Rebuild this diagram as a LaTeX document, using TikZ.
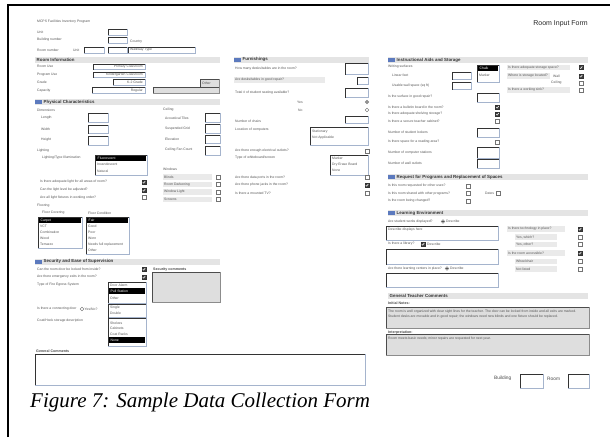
\documentclass[tikz,border=0pt]{standalone}
\usepackage{fontspec}
\setmainfont{Liberation Sans}
\newfontfamily\capfont{Liberation Serif}

\definecolor{headbg}{RGB}{228,228,228}
\definecolor{headicon}{RGB}{92,122,190}
\definecolor{fieldedge}{RGB}{165,180,205}
\definecolor{graybox}{RGB}{222,222,222}
\definecolor{graybar}{RGB}{234,234,234}
\definecolor{lbltext}{RGB}{85,85,85}

\tikzset{
  lbl/.style={anchor=west, inner sep=0pt, font=\fontsize{3.4}{4}\selectfont, text=lbltext},
  lblb/.style={lbl, font=\fontsize{3.6}{4}\selectfont\bfseries, text=black!70},
  head/.style={anchor=west, inner sep=0pt, font=\fontsize{4.4}{5}\selectfont\bfseries, text=black!80},
  formtitle/.style={anchor=east, inner sep=0pt, font=\fontsize{7}{8}\selectfont, text=black!85},
  bigl/.style={anchor=west, inner sep=0pt, font=\fontsize{4.8}{5}\selectfont, text=black!70},
}

% text input field: light frame with a dark inset on top and left
\newcommand{\inbox}[4]{%
  \filldraw[fill=white, draw=fieldedge, line width=0.6pt] (#1,#2) rectangle (#3,#4);
  \draw[black!80, line width=0.9pt] (#1,#4) -- (#1,#2) -- (#3,#2);}
% grey read-only box
\newcommand{\grbox}[4]{%
  \filldraw[fill=graybox, draw=black!45, line width=0.5pt] (#1,#2) rectangle (#3,#4);
  \draw[black!70, line width=0.8pt] (#1,#4) -- (#1,#2) -- (#3,#2);}
% check boxes and radio buttons
\newcommand{\cbx}[2]{\filldraw[fill=white, draw=black!55, line width=0.4pt] (#1,#2) rectangle ++(4,4);}
\newcommand{\cbxon}[2]{%
  \filldraw[fill=black!75, draw=black!80, line width=0.4pt] (#1,#2) rectangle ++(4,4);
  \draw[white, line width=0.5pt] (#1+0.8,#2+2.2) -- (#1+1.7,#2+3.1) -- (#1+3.3,#2+0.9);}
\newcommand{\rdo}[2]{\filldraw[fill=white, draw=black!60, line width=0.4pt] (#1,#2) circle[radius=1.8];}
\newcommand{\rdoon}[2]{\rdo{#1}{#2}\fill[black!80] (#1,#2) circle[radius=0.9];}
% labels
\newcommand{\lbl}[4]{\node[lbl] (#1) at (#2,#3) {#4};}
\newcommand{\gbar}[5]{\fill[graybar] (#2,#3-2.6) rectangle (#4,#3+2.6); \node[lbl] (#1) at (#2+1,#3) {#5};}
\newcommand{\hitm}[5]{\fill[black] (#2,#3-2.6) rectangle (#4,#3+2.6); \node[lbl, text=white] (#1) at (#2+1.5,#3) {#5};}
% section headers
\newcommand{\secthead}[5]{\fill[headbg] (#2,#3) rectangle (#4,#3+6); \node[head] (#1) at (#2+1.5,#3+3) {#5};}
\newcommand{\secticon}[5]{\fill[headbg] (#2,#3) rectangle (#4,#3+6);
  \fill[headicon] (#2,#3+1) rectangle (#2+7,#3+5); \node[head] (#1) at (#2+8.5,#3+3) {#5};}

\begin{document}
\begin{tikzpicture}[x=1pt, y=-1pt]
\useasboundingbox (0,0) rectangle (610,437);
\fill[white] (0,0) rectangle (610,437);

% page frame
\draw[line width=2pt] (8.3,437) -- (8.3,5) -- (610,5);

% ---------- header ----------
\lbl{hdr}{37}{22}{MCPS Facilities Inventory Program}
\lbl{unitl}{37}{32}{Unit}
\inbox{108}{29}{127}{35}
\lbl{bldl}{37}{39.5}{Building number}
\inbox{108}{37}{127}{43}
\lbl{cntl}{130}{42}{Country}
\lbl{rooml}{37}{50}{Room number}
\lbl{unit2}{73}{50}{Unit}
\inbox{84}{47}{104}{53}
\inbox{108}{47}{127}{53}
\inbox{128}{47}{195}{53}
\lbl{walk}{130}{50}{Walkway Type}

% ---------- room information ----------
\secthead{secroom}{35}{57}{220}{Room Information}
\lbl{ruse}{37}{66.7}{Room Use}
\inbox{93}{64}{145}{69.5}
\node[lbl, anchor=east] (rusev) at (143,66.8) {Primary Classroom};
\lbl{puse}{37}{74.7}{Program Use}
\inbox{93}{72}{145}{77.5}
\node[lbl, anchor=east] (pusev) at (143,74.8) {Kindergarten Classroom};
\lbl{grd}{37}{82.3}{Grade}
\inbox{113}{79.5}{145}{85}
\node[lbl, anchor=east] (grdv) at (143,82.3) {K-2 Grade};
\grbox{200}{79}{219}{87}
\lbl{grdo}{202}{83}{Other}
\lbl{capl}{37}{90.3}{Capacity}
\inbox{92}{87.5}{145}{93}
\node[lbl, anchor=east] (capv) at (143,90.3) {Regular};
\grbox{153}{87.5}{219}{93}

% ---------- physical characteristics ----------
\secticon{secphys}{35}{99}{220}{Physical Characteristics}
\lbl{dim}{37}{110}{Dimensions}
\lbl{len}{41}{118}{Length}
\inbox{88}{113.5}{108}{122}
\lbl{wid}{41}{129}{Width}
\inbox{88}{125}{108}{133.5}
\lbl{hgt}{41}{140}{Height}
\inbox{88}{136.5}{108}{145}

\lbl{ceil}{163}{110}{Ceiling}
\lbl{ceil1}{165}{118}{Acoustical Tiles}
\inbox{205}{113}{220}{122}
\lbl{ceil2}{165}{128.5}{Suspended Grid}
\inbox{205}{124}{220}{133}
\lbl{ceil3}{165}{139}{Elevation}
\inbox{205}{135}{220}{143.5}
\lbl{ceil4}{165}{150}{Ceiling Fan Count}
\inbox{205}{146}{220}{155}

\lbl{light}{37}{151}{Lighting}
\lbl{lightt}{42}{158}{Lighting/Type Illumination}
\inbox{95}{155}{147}{175}
\hitm{li1}{96}{158.3}{146.4}{Fluorescent}
\lbl{li2}{97}{164.5}{Incandescent}
\lbl{li3}{97}{171}{Natural}

\lbl{q1}{40}{182}{Is there adequate light for all areas of room?}
\cbxon{142}{180}
\lbl{q2}{40}{190}{Can the light level be adjusted?}
\cbxon{142}{188}
\lbl{q3}{40}{197.5}{Are all light fixtures in working order?}
\cbx{142}{195.5}

\lbl{win}{163}{169}{Windows}
\gbar{w1}{163}{177}{212}{Blinds}
\cbx{216}{175}
\gbar{w2}{163}{184.5}{212}{Room Darkening}
\cbx{216}{182.5}
\gbar{w3}{163}{192}{212}{Window Light}
\cbx{216}{190}
\gbar{w4}{163}{199.5}{212}{Screens}
\cbx{216}{197.5}

\lbl{floor}{37}{206}{Flooring}
\lbl{fcov}{42}{213}{Floor Covering}
\inbox{38}{217}{82}{248}
\hitm{fc1}{39}{220.5}{81.4}{Carpet}
\lbl{fc2}{40}{226.5}{VCT}
\lbl{fc3}{40}{232.5}{Combination}
\lbl{fc4}{40}{238.5}{Wood}
\lbl{fc5}{40}{244.3}{Terrazzo}
\lbl{fcond}{88}{213}{Floor Condition}
\inbox{86}{217}{129}{254}
\hitm{fd1}{87}{220.5}{128.4}{Fair}
\lbl{fd2}{88}{226.5}{Good}
\lbl{fd3}{88}{232.5}{Poor}
\lbl{fd4}{88}{238.5}{Worn}
\lbl{fd5}{88}{244.3}{Needs full replacement}
\lbl{fd6}{88}{250}{Other}

% ---------- security ----------
\secticon{secsec}{35}{258.5}{220}{Security and Ease of Supervision}
\lbl{s1}{37}{269}{Can the room door be locked from inside?}
\cbxon{142}{267}
\lbl{s2}{37}{277}{Are there emergency exits in the room?}
\cbxon{142}{275}
\lbl{s3}{37}{285}{Type of Fire Egress System}
\inbox{108}{282}{146}{303}
\lbl{e1}{110}{285.5}{Door Alarm}
\hitm{e2}{109}{291}{145.4}{Pull Station}
\lbl{e3}{110}{298}{Other}
\node[lblb] (scom) at (153,270) {Security comments};
\grbox{152}{272}{220}{302}
\lbl{s4}{37}{309}{Is there a connecting door}
\rdo{82}{309}
\lbl{s4b}{84.5}{309}{Yes/No?}
\inbox{108}{304}{146}{317.5}
\lbl{d1}{110}{307.5}{Single}
\lbl{d2}{110}{313}{Double}
\lbl{s5}{37}{321}{Coat/Hook storage description}
\inbox{108}{318.5}{146}{346}
\lbl{h1}{110}{323}{Shelves}
\lbl{h2}{110}{328.5}{Cabinets}
\lbl{h3}{110}{334}{Coat Racks}
\hitm{h4}{109}{340}{145.4}{None}

\node[lblb] (gcom) at (36,351) {General Comments};
\inbox{35}{354}{365}{385}

% ---------- furnishings ----------
\secticon{secfurn}{234}{56.5}{369}{Furnishings}
\lbl{m1}{235}{69}{How many desks/tables are in the room?}
\inbox{345}{63.5}{368}{74.5}
\gbar{m2}{234}{80}{325}{Are desks/tables in good repair?}
\inbox{357}{77}{368}{84.5}
\lbl{m3}{235}{93}{Total \# of student seating available?}
\inbox{345}{88.5}{368}{97.5}
\lbl{yes}{297}{102}{Yes}
\rdoon{367}{102}
\lbl{no}{298}{110}{No}
\rdo{367}{110}
\lbl{m4}{235}{121}{Number of chairs}
\inbox{345}{116.5}{368}{123}
\lbl{m5}{235}{130}{Location of computers}
\inbox{310}{127}{368}{145}
\lbl{c1}{312}{132}{Stationary}
\lbl{c2}{312}{137.5}{Not Applicable}
\lbl{m6}{235}{151}{Are there enough electrical outlets?}
\cbx{365}{149}
\lbl{m7}{235}{157.5}{Type of whiteboard/screen}
\inbox{330}{155}{368}{175}
\lbl{b1}{332}{158.5}{Marker}
\lbl{b2}{332}{164.5}{Dry Erase Board}
\lbl{b3}{332}{170.5}{None}
\lbl{m8}{235}{177.5}{Are there data ports in the room?}
\cbx{365}{175.5}
\lbl{m9}{235}{185}{Are there phone jacks in the room?}
\cbxon{365}{183}
\lbl{m10}{235}{193}{Is there a mounted TV?}
\cbx{365}{191}

% ---------- instructional aids and storage ----------
\node[formtitle] (title) at (588,24) {Room Input Form};
\secticon{secaids}{388}{57}{588}{Instructional Aids and Storage}
\lbl{a0}{388}{67}{Writing surfaces}
\lbl{a1}{392}{75.5}{Linear feet}
\inbox{452}{72}{471}{79.5}
\lbl{a2}{392}{85.5}{Usable wall space (sq ft)}
\inbox{452}{82}{471}{89.5}
\inbox{477}{65}{499}{82}
\hitm{ws1}{478}{68.5}{498.4}{Chalk}
\lbl{ws2}{479}{75}{Marker}
\lbl{a3}{388}{97}{Is the surface in good repair?}
\inbox{477}{93}{499}{102}
\lbl{a4}{388}{107}{Is there a bulletin board in the room?}
\cbxon{495.5}{105}
\lbl{a5}{388}{114}{Is there adequate shelving storage?}
\cbxon{495.5}{112}
\lbl{a6}{388}{121}{Is there a secure teacher cabinet?}
\cbx{495.5}{119}
\lbl{a7}{388}{132}{Number of student lockers}
\inbox{477}{128}{499}{137}
\lbl{a8}{388}{142}{Is there space for a reading area?}
\cbx{495.5}{140}
\lbl{a9}{388}{153}{Number of computer stations}
\inbox{477}{147.5}{499}{158}
\lbl{a10}{388}{163}{Number of wall outlets}
\inbox{477}{159}{499}{168}

\gbar{rt1}{507}{67.5}{570}{Is there adequate storage space?}
\cbxon{579}{65.5}
\gbar{rt2}{507}{76}{550}{Where is storage located?}
\lbl{rt2b}{553}{76}{Wall}
\cbxon{579}{74}
\lbl{rt3}{551}{83}{Ceiling}
\cbx{579}{81}
\gbar{rt4}{507}{90}{570}{Is there a working sink?}
\cbx{579}{88}

% ---------- requests ----------
\secticon{secreq}{388}{174}{588}{Request for Programs and Replacement of Spaces}
\lbl{r1}{388}{186}{Is this room requested for other uses?}
\cbx{466}{184}
\lbl{r2}{388}{193.5}{Is this room shared with other programs?}
\cbx{466}{191.5}
\lbl{r2b}{485}{193.5}{Dates}
\cbx{496}{191.5}
\lbl{r3}{388}{201}{Is the room being changed?}
\cbx{466}{199}

% ---------- learning environment ----------
\secticon{seclearn}{388}{210}{588}{Learning Environment}
\lbl{l1}{388}{221.5}{Are student works displayed?}
\rdoon{443}{221.5}
\lbl{l1b}{446}{221.5}{Describe}
\inbox{386}{226}{498}{240}
\lbl{l1t}{388}{229.5}{Describe displays here}
\lbl{l2}{388}{244}{Is there a library?}
\cbxon{421}{242}
\lbl{l2b}{427}{244}{Describe}
\inbox{386}{249.5}{498}{264.5}
\lbl{l3}{388}{268.5}{Are there learning centers in place?}
\rdoon{447}{268.5}
\lbl{l3b}{450}{268.5}{Describe}
\inbox{386}{273.5}{498}{287}

\gbar{e1r}{507}{229}{565}{Is there technology in place?}
\cbxon{578}{227}
\gbar{e2r}{515}{237}{557}{Yes, which?}
\cbx{578}{235}
\gbar{e3r}{515}{244.5}{557}{Yes, other?}
\cbx{578}{242.5}
\gbar{e4r}{507}{253}{565}{Is the room accessible?}
\cbxon{578}{251}
\gbar{e5r}{515}{261.5}{557}{Wheelchair}
\cbx{578}{259.5}
\gbar{e6r}{515}{269}{557}{Not listed}
\cbx{578}{267}

% ---------- teacher comments ----------
\secthead{secgen}{388}{293}{588}{General Teacher Comments}
\node[lblb] (g1) at (388,303) {Initial Notes:};
\grbox{386}{307}{589}{328}
\lbl{g1a}{388}{311.5}{The room is well organized with clear sight lines for the teacher. The door can be locked from inside and all exits are marked.}
\lbl{g1b}{388}{316.5}{Student desks are movable and in good repair; the windows need new blinds and one fixture should be replaced.}
\node[lblb] (g2) at (388,332.5) {Interpretation:};
\grbox{386}{334.5}{589}{355}
\lbl{g2a}{388}{339}{Room meets basic needs; minor repairs are requested for next year.}

\node[bigl] (bld) at (494,378.5) {Building};
\inbox{520}{374}{543}{388}
\node[bigl] (rm) at (547,378.5) {Room};
\inbox{568}{374}{589}{388}

% caption
\node[anchor=base west, inner sep=0pt, font=\capfont\itshape\fontsize{21}{24}\selectfont] (cap) at (30,407) {Figure 7: Sample Data Collection Form};
\end{tikzpicture}
\end{document}
